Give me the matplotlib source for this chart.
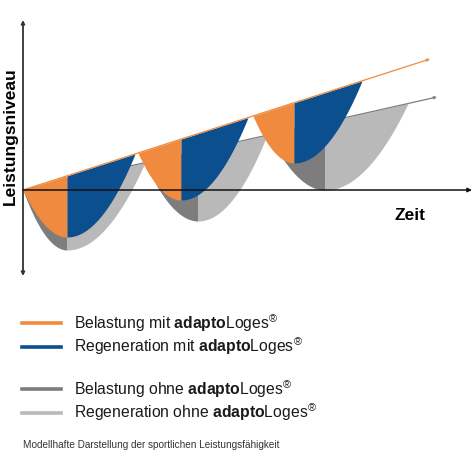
import numpy as np
import matplotlib
matplotlib.use("Agg")
import matplotlib.pyplot as plt
from matplotlib.lines import Line2D

plt.rcParams["font.family"] = ["Liberation Sans", "DejaVu Sans"]
plt.rcParams["mathtext.fontset"] = "custom"
plt.rcParams["mathtext.rm"] = "Liberation Sans"
plt.rcParams["mathtext.bf"] = "Liberation Sans:bold"

##########################################
# Schematic values (time, level)
# trend lines end points, both start at (0, 0)
mit_trend_end = (407, 131)
ohne_trend_end = (414, 93)

# cycles with adaptoLoges
mit_start = [0, 115, 230]
mit_vertex_t = [44, 158, 271]
mit_vertex_level = [-47, -10, 27]
mit_end = [112, 225, 339]

# cycles without adaptoLoges
ohne_start = [0, 122, 246]
ohne_vertex_t = [44, 175, 302]
ohne_vertex_level = [-60, -31, 0]
ohne_end = [122, 244, 385]

labels_mit = [r"Belastung mit $\mathbf{adapto}$Loges$^{®}$",
              r"Regeneration mit $\mathbf{adapto}$Loges$^{®}$"]
labels_ohne = [r"Belastung ohne $\mathbf{adapto}$Loges$^{®}$",
               r"Regeneration ohne $\mathbf{adapto}$Loges$^{®}$"]

ORANGE = "#f08a3e"
BLUE = "#0c4f8f"
DARK_GREY = "#7d7d7d"
LIGHT_GREY = "#b9b9b9"


##########################################
def draw_cycles(ax, starts, vts, vls, ends, trend_end, c_load, c_regen, z):
    """Fills load (down) and regeneration (up) half of each cycle under the trend line."""
    slope = trend_end[1] / trend_end[0]
    for ts, tv, lv, te in zip(starts, vts, vls, ends):
        # load: from start down to the lowest point
        t = np.linspace(ts, tv, 80)
        low = lv + (slope * ts - lv) * ((t - tv) / (ts - tv)) ** 2
        ax.fill_between(t, low, slope * t, color=c_load, lw=0, zorder=z)
        # regeneration: back up to the trend line
        t = np.linspace(tv, te, 80)
        low = lv + (slope * te - lv) * ((t - tv) / (te - tv)) ** 2
        ax.fill_between(t, low, slope * t, color=c_regen, lw=0, zorder=z)
    ax.annotate("", xy=trend_end, xytext=(0, 0),
                arrowprops=dict(arrowstyle="-|>", color=c_load, lw=0.9,
                                mutation_scale=4, shrinkA=0, shrinkB=0),
                zorder=z + 0.5)


fig = plt.figure(figsize=(4.72, 4.72), dpi=100)
ax = fig.add_axes([0, 0, 1, 1])
ax.set_xlim(-23, 449)
ax.set_ylim(-282, 190)
ax.axis("off")

draw_cycles(ax, ohne_start, ohne_vertex_t, ohne_vertex_level, ohne_end,
            ohne_trend_end, DARK_GREY, LIGHT_GREY, 1)
draw_cycles(ax, mit_start, mit_vertex_t, mit_vertex_level, mit_end,
            mit_trend_end, ORANGE, BLUE, 3)

# axes
ax.annotate("", xy=(0, -86), xytext=(0, 170),
            arrowprops=dict(arrowstyle="<|-|>", color="#333333", lw=1.3,
                            mutation_scale=5, shrinkA=0, shrinkB=0), zorder=6)
ax.annotate("", xy=(449, 0), xytext=(0, 0),
            arrowprops=dict(arrowstyle="-|>", color="#111111", lw=1.1,
                            mutation_scale=6, shrinkA=0, shrinkB=0), zorder=6)
ax.text(387, -25, "Zeit", fontsize=12.5, fontweight="bold", ha="center", va="center")
ax.text(-13, 54, "Leistungsniveau", fontsize=12.5, fontweight="bold",
        rotation=90, ha="center", va="center")

# legends (two groups)
def make_legend(labels, colors, top):
    handles = [Line2D([], [], color=c, lw=2.6) for c in colors]
    leg = fig.legend(handles, labels, loc="upper left",
                     bbox_to_anchor=(22 / 472, 1 - top / 472), frameon=False,
                     fontsize=11.3, handlelength=2.5, handletextpad=0.8,
                     labelspacing=0.12, borderpad=0, borderaxespad=0)
    for t in leg.get_texts():
        t.set_color("#1a1a1a")
    return leg

make_legend(labels_mit, [ORANGE, BLUE], 312)
make_legend(labels_ohne, [DARK_GREY, LIGHT_GREY], 378)

fig.text(23 / 472, 1 - 445 / 472, "Modellhafte Darstellung der sportlichen Leistungsfähigkeit",
         fontsize=7.2, color="#333333", va="center")

fig.savefig("out.png", dpi=100, facecolor="white")
